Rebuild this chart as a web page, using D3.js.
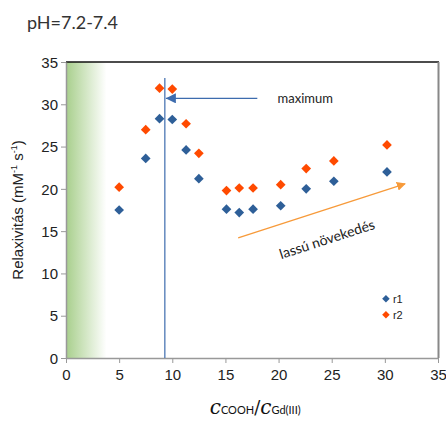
<!DOCTYPE html>
<html>
<head>
<meta charset="utf-8">
<script src="https://cdn.jsdelivr.net/npm/d3@7"></script>
<style>
  body { margin: 0; background: #fff; }
  svg { font-family: "Liberation Sans", Arial, sans-serif; }
</style>
</head>
<body>
<div id="vis"></div>
<script>
// frame
const FRAME_WIDTH = 446;
const FRAME_HEIGHT = 421;
const MARGINS = {left: 66, right: 8, top: 62, bottom: 63};
const VIS_WIDTH = FRAME_WIDTH - MARGINS.left - MARGINS.right;
const VIS_HEIGHT = FRAME_HEIGHT - MARGINS.top - MARGINS.bottom;

// data
const ratio = [5, 7.5, 8.8, 10, 11.3, 12.5, 15.1, 16.3, 17.6, 20.2, 22.6, 25.2, 30.2];
const r1 = [17.5, 23.6, 28.3, 28.2, 24.6, 21.2, 17.6, 17.2, 17.6, 18.0, 20.0, 20.9, 22.0];
const r2 = [20.2, 27.0, 31.9, 31.8, 27.7, 24.2, 19.8, 20.1, 20.1, 20.5, 22.4, 23.3, 25.2];
const seriesNames = ["r1", "r2"];
const seriesColors = ["#2e5f98", "#ff4a00"];
const xTicks = [0, 5, 10, 15, 20, 25, 30, 35];
const yTicks = [0, 5, 10, 15, 20, 25, 30, 35];
const maxX = 9.3;      // vertical marker
const maxArrowY = 30.7;

const svg = d3.select("#vis")
  .append("svg")
    .attr("width", FRAME_WIDTH)
    .attr("height", FRAME_HEIGHT);

const X_SCALE = d3.scaleLinear().domain([0, 35]).range([0, VIS_WIDTH]);
const Y_SCALE = d3.scaleLinear().domain([0, 35]).range([VIS_HEIGHT, 0]);

const defs = svg.append("defs");
const grad = defs.append("linearGradient").attr("id", "green");
grad.append("stop").attr("offset", "0%").attr("stop-color", "#a8cf8c");
grad.append("stop").attr("offset", "100%").attr("stop-color", "#ffffff");

defs.append("marker")
    .attr("id", "headBlue")
    .attr("viewBox", "0 0 10 10")
    .attr("refX", 10).attr("refY", 5)
    .attr("markerWidth", 10).attr("markerHeight", 10)
    .attr("markerUnits", "userSpaceOnUse")
    .attr("orient", "auto")
  .append("path")
    .attr("d", "M0,0 L10,5 L0,10 Z")
    .attr("fill", "#3d6cae");

defs.append("marker")
    .attr("id", "headOrange")
    .attr("viewBox", "0 0 10 10")
    .attr("refX", 9).attr("refY", 5)
    .attr("markerWidth", 9).attr("markerHeight", 9)
    .attr("markerUnits", "userSpaceOnUse")
    .attr("orient", "auto")
  .append("path")
    .attr("d", "M0,0 L10,5 L0,10 Z")
    .attr("fill", "#f79a3a");

// title
svg.append("text")
    .attr("x", 27).attr("y", 29)
    .attr("font-size", 18)
    .attr("font-family", "Lato, sans-serif")
    .attr("fill", "#333")
    .text("pH=7.2-7.4");

const plot = svg.append("g")
    .attr("transform", "translate(" + MARGINS.left + "," + MARGINS.top + ")");

// green shaded band near zero
plot.append("rect")
    .attr("x", X_SCALE(0))
    .attr("y", 0)
    .attr("width", X_SCALE(3.8) - X_SCALE(0))
    .attr("height", VIS_HEIGHT)
    .attr("fill", "url(#green)");

// top and right border
plot.append("line")
    .attr("x1", 0).attr("x2", VIS_WIDTH + 1)
    .attr("y1", 0).attr("y2", 0)
    .attr("stroke", "#111").attr("stroke-width", 1.5);
plot.append("line")
    .attr("x1", VIS_WIDTH + 0.5).attr("x2", VIS_WIDTH + 0.5)
    .attr("y1", 0).attr("y2", VIS_HEIGHT)
    .attr("stroke", "#888").attr("stroke-width", 2);

// axes
const xAxis = plot.append("g")
    .attr("transform", "translate(0," + VIS_HEIGHT + ")")
    .call(d3.axisBottom(X_SCALE).tickValues(xTicks).tickSize(5).tickSizeOuter(0));
const yAxis = plot.append("g")
    .call(d3.axisLeft(Y_SCALE).tickValues(yTicks).tickSize(5).tickSizeOuter(0));

[xAxis, yAxis].forEach((ax) => {
  ax.select(".domain").attr("stroke", "#999").attr("stroke-width", 1.5);
  ax.selectAll(".tick line").attr("stroke", "#999");
  ax.selectAll(".tick text")
    .attr("font-size", 15)
    .attr("font-family", "Liberation Sans, Arial, sans-serif")
    .attr("fill", "#222");
});
xAxis.selectAll(".tick text").attr("dy", "0.95em");
yAxis.selectAll(".tick text").attr("dy", "0.35em").attr("x", -8);

// vertical marker at the maximum
plot.append("line")
    .attr("x1", X_SCALE(maxX)).attr("x2", X_SCALE(maxX))
    .attr("y1", Y_SCALE(33.1)).attr("y2", VIS_HEIGHT)
    .attr("stroke", "#3d6cae").attr("stroke-width", 1.2);

// "maximum" arrow
plot.append("line")
    .attr("x1", X_SCALE(18)).attr("x2", X_SCALE(maxX) + 1)
    .attr("y1", Y_SCALE(maxArrowY)).attr("y2", Y_SCALE(maxArrowY))
    .attr("stroke", "#3d6cae").attr("stroke-width", 1.3)
    .attr("marker-end", "url(#headBlue)");
plot.append("text")
    .attr("x", X_SCALE(19.9)).attr("y", Y_SCALE(maxArrowY) + 5)
    .attr("font-size", 13)
    .attr("font-family", "Lato, sans-serif")
    .attr("fill", "#222")
    .text("maximum");

// "lassú növekedés" arrow
const ax1 = [X_SCALE(16.2), Y_SCALE(14.2)];
const ax2 = [X_SCALE(31.9), Y_SCALE(20.6)];
plot.append("line")
    .attr("x1", ax1[0]).attr("y1", ax1[1])
    .attr("x2", ax2[0]).attr("y2", ax2[1])
    .attr("stroke", "#f79a3a").attr("stroke-width", 1.3)
    .attr("marker-end", "url(#headOrange)");
const angle = Math.atan2(ax2[1] - ax1[1], ax2[0] - ax1[0]) * 180 / Math.PI;
plot.append("text")
    .attr("transform", "translate(" + X_SCALE(24.7) + "," + Y_SCALE(13.5) + ") rotate(" + angle + ")")
    .attr("text-anchor", "middle")
    .attr("font-size", 14)
    .attr("font-family", "Lato, sans-serif")
    .attr("fill", "#222")
    .text("lassú növekedés");

// points
const diamond = d3.symbol().type(d3.symbolDiamond2).size(60);
[r1, r2].forEach((vals, i) => {
  plot.append("g")
    .selectAll("path")
    .data(vals)
    .enter()
    .append("path")
      .attr("d", diamond)
      .attr("transform", (d, j) => "translate(" + X_SCALE(ratio[j]) + "," + Y_SCALE(d) + ")")
      .attr("fill", seriesColors[i]);
});

// legend
const legend = plot.append("g")
    .attr("transform", "translate(" + X_SCALE(30.1) + "," + Y_SCALE(7.0) + ")");
seriesNames.forEach((name, i) => {
  legend.append("path")
    .attr("d", d3.symbol().type(d3.symbolDiamond2).size(36))
    .attr("transform", "translate(0," + (i * 16) + ")")
    .attr("fill", seriesColors[i]);
  legend.append("text")
    .attr("x", 7).attr("y", i * 16 + 4)
    .attr("font-size", 11)
    .attr("fill", "#222")
    .text(name);
});

// axis titles
svg.append("text")
    .attr("transform", "translate(23," + (MARGINS.top + VIS_HEIGHT / 2) + ") rotate(-90)")
    .attr("text-anchor", "middle")
    .attr("font-size", 15)
    .attr("fill", "#222")
    .text("Relaxivitás (mM")
  .call((t) => {
    t.append("tspan").attr("font-size", 9).attr("dy", -6).text("-1");
    t.append("tspan").attr("dy", 6).text(" s");
    t.append("tspan").attr("font-size", 9).attr("dy", -6).text("-1");
    t.append("tspan").attr("dy", 6).text(")");
  });

const xt = svg.append("text")
    .attr("x", MARGINS.left + X_SCALE(17.8))
    .attr("y", 414)
    .attr("text-anchor", "middle")
    .attr("fill", "#111");
xt.append("tspan").attr("font-family", "DejaVu Serif, serif").attr("font-style", "italic").attr("font-size", 20).text("c");
xt.append("tspan").attr("font-family", "Lato, sans-serif").attr("font-size", 11).text("COOH");
xt.append("tspan").attr("font-family", "DejaVu Serif, serif").attr("font-size", 18).text("/");
xt.append("tspan").attr("font-family", "DejaVu Serif, serif").attr("font-style", "italic").attr("font-size", 20).text("c");
xt.append("tspan").attr("font-family", "Lato, sans-serif").attr("font-size", 11).text("Gd(III)");
</script>
</body>
</html>
